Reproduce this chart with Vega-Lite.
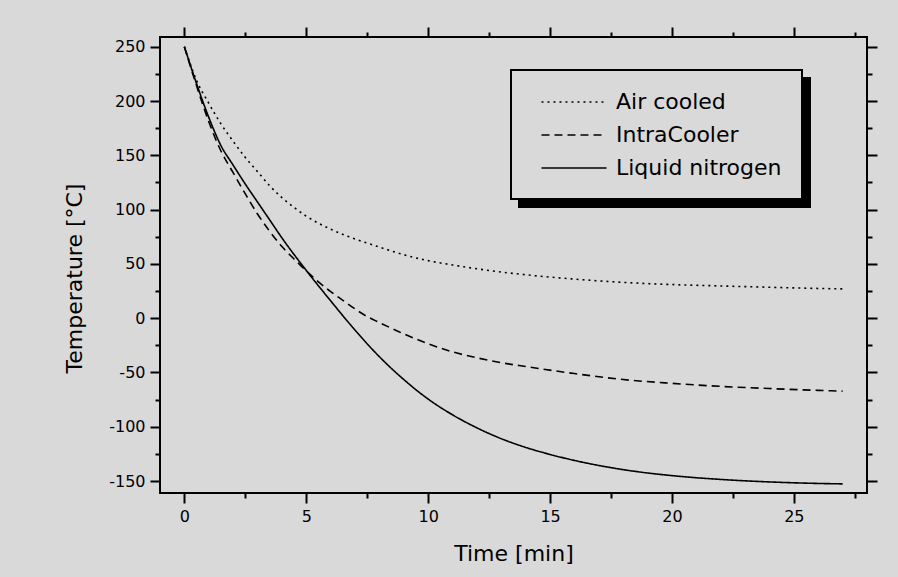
{
  "$schema": "https://vega.github.io/schema/vega-lite/v6.json",
  "width": 707,
  "height": 456,
  "autosize": {"type": "none"},
  "padding": {"left": 160, "top": 37, "right": 31, "bottom": 84},
  "background": "#d9d9d9",
  "config": {
    "view": {"stroke": "#000000", "strokeWidth": 2, "fill": "#d9d9d9"},
    "font": "DejaVu Sans",
    "legend": {"strokeWidth": 2},
    "axis": {
      "domain": false,
      "grid": false,
      "tickColor": "#000000",
      "tickWidth": 2,
      "labelColor": "#000000",
      "labelFont": "DejaVu Sans",
      "labelFontSize": 16,
      "labelOverlap": false,
      "labelFlush": false,
      "titleColor": "#000000",
      "titleFont": "DejaVu Sans",
      "titleFontSize": 22,
      "titleFontWeight": "normal"
    }
  },
  "data": {
    "values": [
      {"t": 0, "T": 250, "series": "Air cooled"},
      {"t": 0.5, "T": 219, "series": "Air cooled"},
      {"t": 1, "T": 198, "series": "Air cooled"},
      {"t": 1.5, "T": 179, "series": "Air cooled"},
      {"t": 2, "T": 163, "series": "Air cooled"},
      {"t": 2.5, "T": 148, "series": "Air cooled"},
      {"t": 3, "T": 135, "series": "Air cooled"},
      {"t": 3.5, "T": 122, "series": "Air cooled"},
      {"t": 4, "T": 111, "series": "Air cooled"},
      {"t": 4.5, "T": 102, "series": "Air cooled"},
      {"t": 5, "T": 94, "series": "Air cooled"},
      {"t": 6, "T": 82, "series": "Air cooled"},
      {"t": 7, "T": 73, "series": "Air cooled"},
      {"t": 8, "T": 65.5, "series": "Air cooled"},
      {"t": 9, "T": 58.5, "series": "Air cooled"},
      {"t": 10, "T": 53, "series": "Air cooled"},
      {"t": 11, "T": 49, "series": "Air cooled"},
      {"t": 12, "T": 45.5, "series": "Air cooled"},
      {"t": 13, "T": 42.5, "series": "Air cooled"},
      {"t": 14, "T": 40, "series": "Air cooled"},
      {"t": 16, "T": 36, "series": "Air cooled"},
      {"t": 18, "T": 33, "series": "Air cooled"},
      {"t": 20, "T": 31, "series": "Air cooled"},
      {"t": 22, "T": 29.7, "series": "Air cooled"},
      {"t": 24, "T": 28.5, "series": "Air cooled"},
      {"t": 26, "T": 27.4, "series": "Air cooled"},
      {"t": 27, "T": 27, "series": "Air cooled"},
      {"t": 0, "T": 250, "series": "IntraCooler"},
      {"t": 0.5, "T": 214, "series": "IntraCooler"},
      {"t": 1, "T": 181, "series": "IntraCooler"},
      {"t": 1.5, "T": 154, "series": "IntraCooler"},
      {"t": 2, "T": 134, "series": "IntraCooler"},
      {"t": 2.5, "T": 114.5, "series": "IntraCooler"},
      {"t": 3, "T": 96, "series": "IntraCooler"},
      {"t": 3.5, "T": 80, "series": "IntraCooler"},
      {"t": 4, "T": 66, "series": "IntraCooler"},
      {"t": 4.5, "T": 54.5, "series": "IntraCooler"},
      {"t": 5, "T": 43.5, "series": "IntraCooler"},
      {"t": 5.5, "T": 33.5, "series": "IntraCooler"},
      {"t": 6, "T": 24.5, "series": "IntraCooler"},
      {"t": 6.5, "T": 16.5, "series": "IntraCooler"},
      {"t": 7, "T": 8.5, "series": "IntraCooler"},
      {"t": 7.5, "T": 1.5, "series": "IntraCooler"},
      {"t": 8, "T": -4, "series": "IntraCooler"},
      {"t": 9, "T": -14.5, "series": "IntraCooler"},
      {"t": 10, "T": -23.5, "series": "IntraCooler"},
      {"t": 11, "T": -31, "series": "IntraCooler"},
      {"t": 12, "T": -36.5, "series": "IntraCooler"},
      {"t": 13, "T": -41, "series": "IntraCooler"},
      {"t": 14, "T": -44.5, "series": "IntraCooler"},
      {"t": 16, "T": -51, "series": "IntraCooler"},
      {"t": 18, "T": -56.5, "series": "IntraCooler"},
      {"t": 20, "T": -60, "series": "IntraCooler"},
      {"t": 22, "T": -62.8, "series": "IntraCooler"},
      {"t": 24, "T": -64.8, "series": "IntraCooler"},
      {"t": 26, "T": -66.5, "series": "IntraCooler"},
      {"t": 27, "T": -67.2, "series": "IntraCooler"},
      {"t": 0, "T": 250, "series": "Liquid nitrogen"},
      {"t": 0.5, "T": 216, "series": "Liquid nitrogen"},
      {"t": 1, "T": 185, "series": "Liquid nitrogen"},
      {"t": 1.5, "T": 159, "series": "Liquid nitrogen"},
      {"t": 2, "T": 141, "series": "Liquid nitrogen"},
      {"t": 2.5, "T": 123.5, "series": "Liquid nitrogen"},
      {"t": 3, "T": 107, "series": "Liquid nitrogen"},
      {"t": 3.5, "T": 90.5, "series": "Liquid nitrogen"},
      {"t": 4, "T": 74, "series": "Liquid nitrogen"},
      {"t": 5, "T": 44, "series": "Liquid nitrogen"},
      {"t": 6, "T": 16, "series": "Liquid nitrogen"},
      {"t": 7, "T": -11, "series": "Liquid nitrogen"},
      {"t": 8, "T": -35.5, "series": "Liquid nitrogen"},
      {"t": 9, "T": -56.5, "series": "Liquid nitrogen"},
      {"t": 10, "T": -74.5, "series": "Liquid nitrogen"},
      {"t": 11, "T": -89, "series": "Liquid nitrogen"},
      {"t": 12, "T": -101, "series": "Liquid nitrogen"},
      {"t": 13, "T": -111, "series": "Liquid nitrogen"},
      {"t": 14, "T": -119, "series": "Liquid nitrogen"},
      {"t": 15, "T": -125.5, "series": "Liquid nitrogen"},
      {"t": 16, "T": -131, "series": "Liquid nitrogen"},
      {"t": 18, "T": -139.5, "series": "Liquid nitrogen"},
      {"t": 20, "T": -145, "series": "Liquid nitrogen"},
      {"t": 22, "T": -148.5, "series": "Liquid nitrogen"},
      {"t": 24, "T": -150.8, "series": "Liquid nitrogen"},
      {"t": 26, "T": -152.2, "series": "Liquid nitrogen"},
      {"t": 27, "T": -152.6, "series": "Liquid nitrogen"}
    ]
  },
  "layer": [
    {
      "mark": {"type": "line", "opacity": 0, "clip": true},
      "encoding": {
        "x": {
          "field": "t", "type": "quantitative",
          "scale": {"domain": [-1, 28], "nice": false, "zero": false},
          "axis": {"orient": "top", "title": null, "labels": false,
            "values": [0, 2.5, 5, 7.5, 10, 12.5, 15, 17.5, 20, 22.5, 25, 27.5],
            "tickSize": {"condition": {"test": "datum.value % 5 === 0", "value": 10}, "value": 5}}
        },
        "y": {
          "field": "T", "type": "quantitative",
          "scale": {"domain": [-161, 259], "nice": false, "zero": false},
          "axis": {"orient": "right", "title": null, "labels": false,
            "values": [-150, -125, -100, -75, -50, -25, 0, 25, 50, 75, 100, 125, 150, 175, 200, 225, 250],
            "tickSize": {"condition": {"test": "datum.value % 50 === 0", "value": 10}, "value": 5}}
        },
        "color": {
          "field": "series", "type": "nominal",
          "scale": {"domain": ["Air cooled", "IntraCooler", "Liquid nitrogen"], "range": ["#000000", "#000000", "#000000"]},
          "legend": {
            "orient": "none", "legendX": 359, "legendY": 41, "zindex": 0,
            "title": null,
            "fillColor": "#000000", "strokeColor": "#000000",
            "padding": 20, "rowPadding": 10,
            "symbolType": "M-3,0H3", "symbolSize": 470, "symbolOffset": 31,
            "symbolOpacity": 0, "symbolStrokeWidth": 1.5,
            "labelExpr": "' '",
            "labelFont": "DejaVu Sans", "labelFontSize": 22, "labelOffset": 196,
            "labelOpacity": 0, "labelLimit": 400
          }
        }
      }
    },
    {
      "mark": {"type": "line", "strokeWidth": 1.6, "color": "#000000", "clip": true, "interpolate": "monotone"},
      "encoding": {
        "x": {
          "field": "t", "type": "quantitative",
          "axis": {"orient": "bottom", "title": "Time [min]",
            "values": [0, 2.5, 5, 7.5, 10, 12.5, 15, 17.5, 20, 22.5, 25, 27.5],
            "labelExpr": "datum.value % 5 === 0 ? '' + datum.value : ''",
            "labelPadding": 5, "titlePadding": 19,
            "tickSize": {"condition": {"test": "datum.value % 5 === 0", "value": 10}, "value": 5}}
        },
        "y": {
          "field": "T", "type": "quantitative",
          "axis": {"orient": "left", "title": "Temperature [°C]",
            "values": [-150, -125, -100, -75, -50, -25, 0, 25, 50, 75, 100, 125, 150, 175, 200, 225, 250],
            "labelExpr": "datum.value % 50 === 0 ? '' + datum.value : ''",
            "labelPadding": 5, "titlePadding": 22, "titleY": 241,
            "tickSize": {"condition": {"test": "datum.value % 50 === 0", "value": 10}, "value": 5}}
        },
        "strokeDash": {
          "field": "series", "type": "nominal",
          "scale": {"range": [[2, 4], [8, 5], [1, 0]]},
          "legend": {
            "orient": "none", "legendX": 351, "legendY": 33, "zindex": 1,
            "title": null,
            "fillColor": "#d9d9d9", "strokeColor": "#000000",
            "padding": 20, "rowPadding": 10,
            "symbolType": "M-3,0H3", "symbolSize": 470, "symbolOffset": 31,
            "symbolStrokeColor": "#000000", "symbolStrokeWidth": 1.5,
            "labelFont": "DejaVu Sans", "labelFontSize": 22, "labelOffset": 30,
            "labelColor": "#000000", "labelLimit": 400
          }
        }
      }
    }
  ],
  "resolve": {"axis": {"x": "independent", "y": "independent"}}
}
